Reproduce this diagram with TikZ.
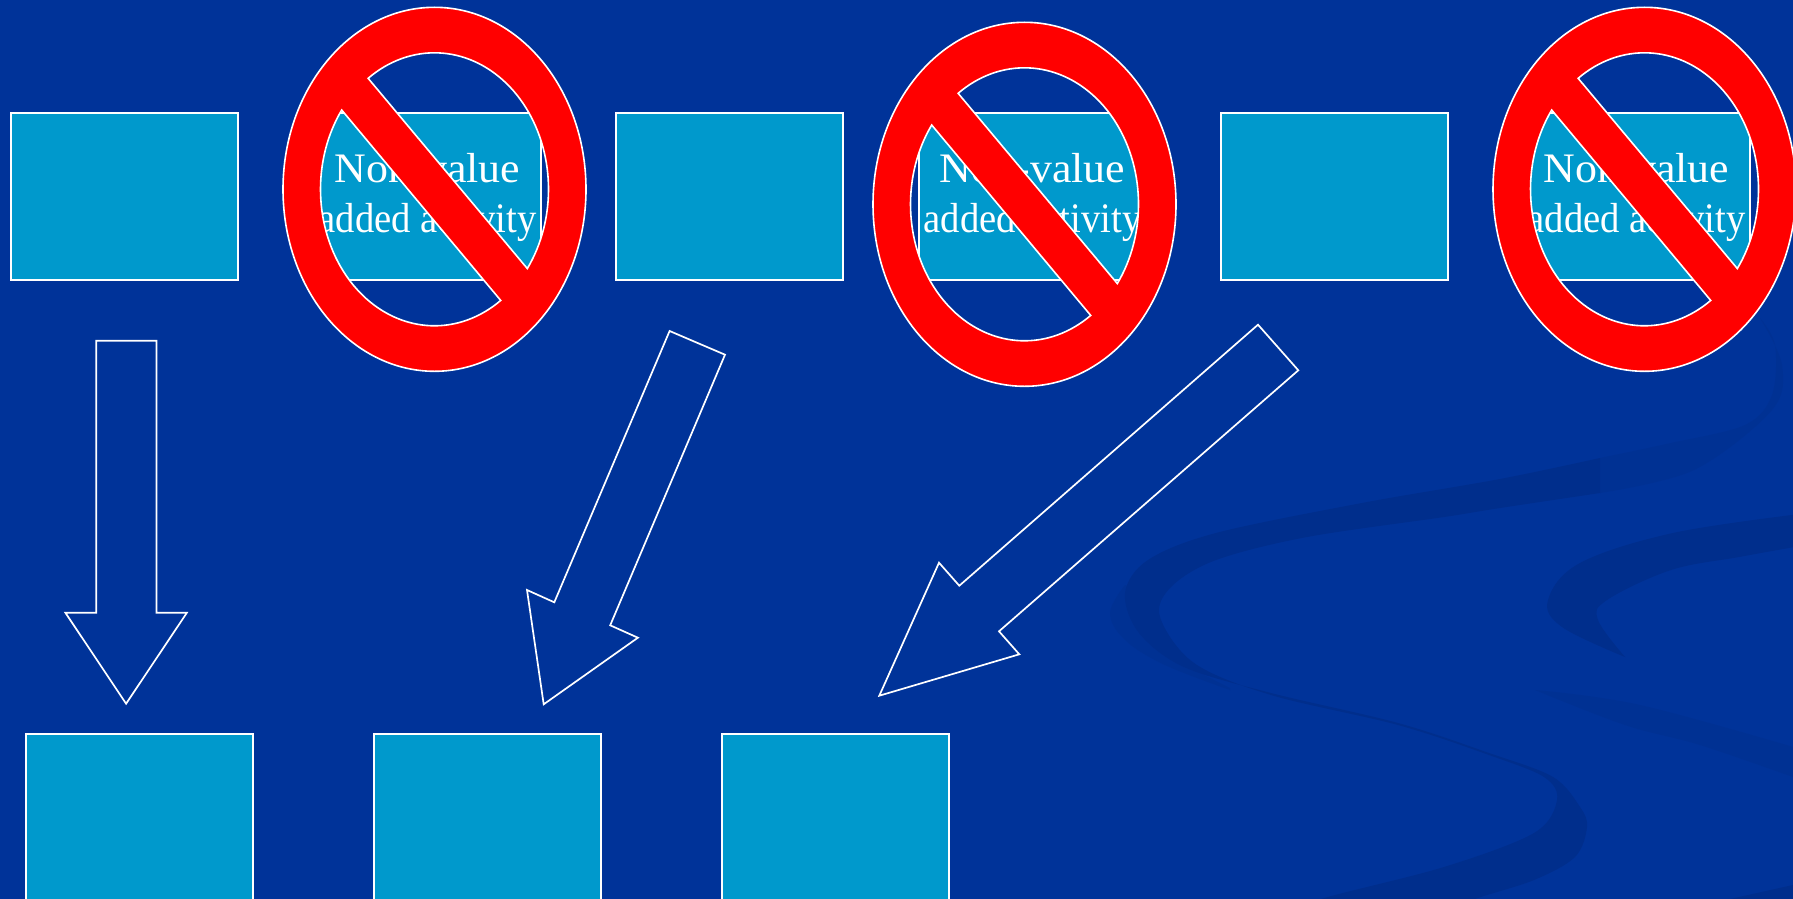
\documentclass[tikz,border=0pt]{standalone}
\usepackage{fontspec}
\setmainfont{Liberation Serif}
\definecolor{bgblue}{HTML}{003399}
\definecolor{swoosh}{HTML}{002E8C}
\definecolor{swooshfaint}{HTML}{003193}
\definecolor{boxblue}{HTML}{0099CC}
\tikzset{
  stepbox/.style={draw=white,line width=2pt,fill=boxblue,minimum width=227pt,minimum height=167pt,inner sep=0pt,outer sep=0pt},
  lowbox/.style={stepbox,minimum height=200pt},
  blockarrow/.style={draw=white,line width=1.7pt,line join=miter},
  nosignring/.style={draw=white,line width=1.6pt,fill=red,even odd rule},
  boxlabel/.style={text=white,align=center,inner sep=0pt,font=\fontsize{42pt}{50pt}\selectfont},
  shade1/.style={fill=swoosh,draw=none},
  shade2/.style={fill=swooshfaint,draw=none}
}
\newfontfamily\wideface[FakeStretch=1.045]{Liberation Serif}
\newfontfamily\narrowface[FakeStretch=0.92]{Liberation Serif}
\newcommand{\nosignat}[3]{%
  \node[inner sep=0pt,minimum size=0pt] (#3) at (#1,#2) {};
  \path[nosignring,shift={(#3)}]
    (0,0) ellipse [x radius=151.5pt,y radius=182pt]
    plot[domain=-125.6:35.5,samples=70] ({114*cos(\x)},{136.5*sin(\x)}) -- cycle
    plot[domain=54.5:215.5,samples=70] ({114*cos(\x)},{136.5*sin(\x)}) -- cycle;
}
\begin{document}
\begin{tikzpicture}[x=1pt,y=-1pt]
\useasboundingbox (0,0) rectangle (1793,899);
\clip (0,0) rectangle (1793,899);
\fill[bgblue] (0,0) rectangle (1793,899);

% background swooshes
\fill[shade2] plot[smooth,tension=.6] coordinates {(1125,585)(1110,613)(1125,640)(1165,665)(1230,690)}
  -- plot[smooth,tension=.6] coordinates {(1230,688)(1180,660)(1150,625)(1140,590)} -- cycle;
\fill[shade2]
  plot[smooth,tension=.55] coordinates {(1600,458)(1671,443)(1745,425)(1772,395)(1775,345)(1760,318)}
  -- plot[smooth,tension=.55] coordinates {(1760,318)(1782,365)(1772,410)(1694,470)(1600,493)} -- cycle;
\fill[shade1] plot[smooth,tension=.55] coordinates {(1600,458)(1500,479)(1362,503)(1216,533)(1148,560)(1125,593)(1139,633)(1184,667)(1271,693)(1398,723)(1489,753)(1553,777)(1580,807)(1587,827)(1575,857)(1534,880)(1475,899)(1440,915)}
  -- plot[smooth,tension=.55] coordinates {(1290,915)(1321,899)(1444,867)(1534,833)(1557,800)(1544,777)(1489,755)(1398,725)(1271,695)(1194,663)(1160,617)(1171,587)(1216,560)(1307,537)(1444,517)(1500,508)(1600,493)} -- cycle;
\fill[shade1] plot[smooth,tension=.6] coordinates {(1800,514)(1673,533)(1580,563)(1548,600)(1562,627)(1625,657)}
  -- plot[smooth,tension=.6] coordinates {(1625,657)(1598,620)(1607,600)(1671,570)(1739,557)(1800,546)} -- cycle;
\fill[shade2] plot[smooth,tension=.6] coordinates {(1535,690)(1640,705)(1800,749)}
  -- (1800,780) -- plot[smooth,tension=.6] coordinates {(1793,777)(1700,745)(1625,725)(1535,690)} -- cycle;
\fill[shade1] (1730,899) -- (1793,885) -- (1800,899) -- cycle;

% upper boxes
\node[stepbox] (b1) at (124.5,196.5) {};
\node[stepbox] (b2) at (427.5,196.5) {};
\node[stepbox] (b3) at (729.5,196.5) {};
\node[stepbox] (b4) at (1032.5,196.5) {};
\node[stepbox] (b5) at (1334.5,196.5) {};
\node[stepbox] (b6) at (1636.5,196.5) {};
% lower boxes
\node[lowbox] (c1) at (139.5,834) {};
\node[lowbox] (c2) at (487.5,834) {};
\node[lowbox] (c3) at (835.5,834) {};

% labels
\node[boxlabel] (t1) at (427.5,197.2) {{\wideface Non-value}\\{\narrowface added activity}};
\node[boxlabel] (t2) at (1032.5,197.2) {{\wideface Non-value}\\{\narrowface added activity}};
\node[boxlabel] (t3) at (1636.5,197.2) {{\wideface Non-value}\\{\narrowface added activity}};

% block arrows
\draw[blockarrow] (96.2,340.7) -- (156.5,340.7) -- (156.5,612.7) -- (186.9,612.7) -- (126.1,703.7) -- (65.4,612.7) -- (96.2,612.7) -- cycle;
\draw[blockarrow] (669.6,331) -- (725,354.7) -- (610.2,625.3) -- (637.9,637.7) -- (543.7,704.3) -- (527,590) -- (554.3,602.3) -- cycle;
\draw[blockarrow] (1258,324.7) -- (1298.3,370.3) -- (999,631.3) -- (1019.3,654.3) -- (879.3,695.7) -- (939,562.7) -- (959.3,585.7) -- cycle;

% prohibition signs
\nosignat{434.5}{189.3}{n1}
\nosignat{1024.5}{204.3}{n2}
\nosignat{1644.5}{189.3}{n3}
\end{tikzpicture}
\end{document}
